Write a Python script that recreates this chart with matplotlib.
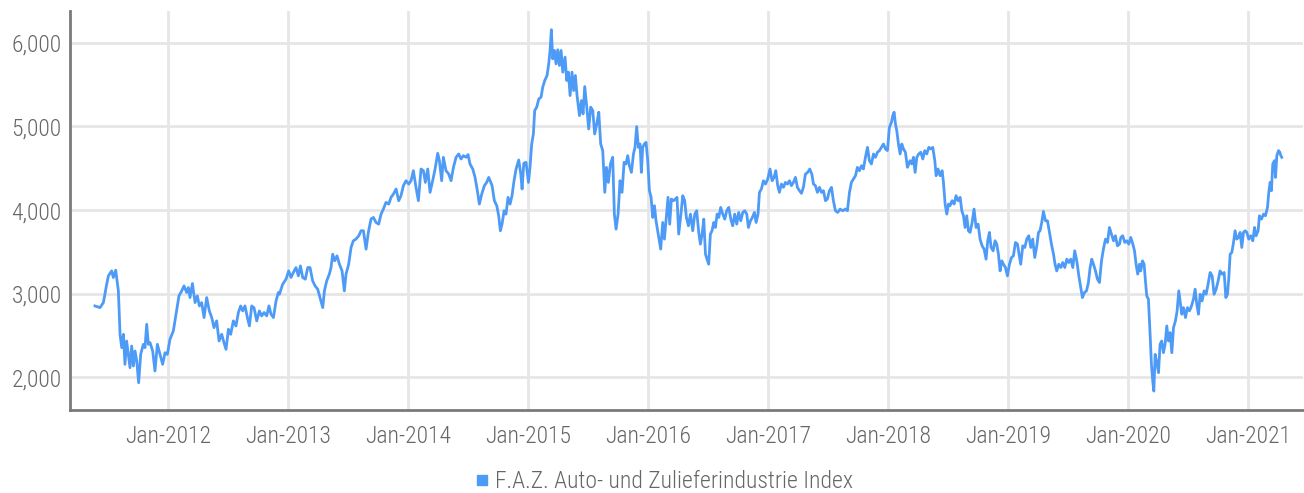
import matplotlib
matplotlib.use("Agg")
import matplotlib.pyplot as plt
from matplotlib.lines import Line2D
import matplotlib.font_manager as fm

# ---------------- data (decimal years, index level) ----------------
years = [
 2011.394, 2011.436, 2011.464, 2011.492, 2011.506, 2011.533, 2011.547, 2011.567, 2011.589, 2011.603,
 2011.617, 2011.631, 2011.644, 2011.658, 2011.672, 2011.686, 2011.700, 2011.714, 2011.728, 2011.742,
 2011.758, 2011.775, 2011.797, 2011.811, 2011.825, 2011.839, 2011.853, 2011.875, 2011.894, 2011.914,
 2011.936, 2011.958, 2011.978, 2011.997, 2012.019, 2012.047, 2012.069, 2012.094, 2012.117, 2012.136,
 2012.158, 2012.172, 2012.186, 2012.206, 2012.228, 2012.247, 2012.264, 2012.283, 2012.303, 2012.325,
 2012.347, 2012.367, 2012.386, 2012.408, 2012.428, 2012.450, 2012.469, 2012.486, 2012.506, 2012.525,
 2012.547, 2012.569, 2012.589, 2012.608, 2012.625, 2012.644, 2012.664, 2012.681, 2012.700, 2012.719,
 2012.742, 2012.764, 2012.783, 2012.803, 2012.825, 2012.844, 2012.861, 2012.881, 2012.903, 2012.922,
 2012.931, 2012.958, 2012.986, 2013.008, 2013.028, 2013.047, 2013.069, 2013.089, 2013.106, 2013.125,
 2013.147, 2013.167, 2013.186, 2013.208, 2013.228, 2013.250, 2013.269, 2013.292, 2013.306, 2013.325,
 2013.347, 2013.361, 2013.375, 2013.392, 2013.411, 2013.431, 2013.453, 2013.472, 2013.486, 2013.508,
 2013.528, 2013.547, 2013.569, 2013.592, 2013.611, 2013.631, 2013.653, 2013.672, 2013.694, 2013.714,
 2013.736, 2013.758, 2013.778, 2013.797, 2013.819, 2013.842, 2013.861, 2013.881, 2013.903, 2013.925,
 2013.944, 2013.964, 2013.986, 2014.008, 2014.028, 2014.047, 2014.069, 2014.089, 2014.111, 2014.131,
 2014.147, 2014.167, 2014.186, 2014.208, 2014.228, 2014.250, 2014.264, 2014.283, 2014.297, 2014.319,
 2014.342, 2014.361, 2014.381, 2014.403, 2014.425, 2014.444, 2014.464, 2014.486, 2014.503, 2014.519,
 2014.542, 2014.561, 2014.578, 2014.597, 2014.617, 2014.639, 2014.658, 2014.675,
 2014.681, 2014.703, 2014.722, 2014.742, 2014.758, 2014.772, 2014.786, 2014.803, 2014.819, 2014.836,
 2014.853, 2014.869, 2014.886, 2014.903, 2014.925, 2014.942, 2014.953, 2014.967, 2014.986, 2015.006,
 2015.019, 2015.033, 2015.047, 2015.058, 2015.075, 2015.092, 2015.111, 2015.125, 2015.142, 2015.161,
 2015.175, 2015.186, 2015.197, 2015.208, 2015.222, 2015.236, 2015.250, 2015.264, 2015.278, 2015.292,
 2015.311, 2015.325, 2015.339, 2015.353, 2015.369, 2015.383, 2015.397, 2015.411, 2015.431, 2015.447,
 2015.461, 2015.475, 2015.492, 2015.508, 2015.525, 2015.542, 2015.558, 2015.575, 2015.592, 2015.608,
 2015.625, 2015.642, 2015.656, 2015.672, 2015.689, 2015.708, 2015.722, 2015.736, 2015.753, 2015.769,
 2015.786, 2015.803, 2015.819, 2015.833, 2015.847, 2015.864, 2015.881, 2015.894, 2015.908, 2015.922,
 2015.936, 2015.947, 2015.958, 2015.972, 2015.986, 2016.000, 2016.014, 2016.028, 2016.042, 2016.056,
 2016.069, 2016.083, 2016.097, 2016.108, 2016.125, 2016.139, 2016.153, 2016.169, 2016.183, 2016.197,
 2016.214, 2016.231, 2016.244, 2016.258, 2016.275, 2016.292, 2016.308, 2016.322, 2016.339, 2016.356,
 2016.375, 2016.392, 2016.408, 2016.425,
 2016.439, 2016.453, 2016.467, 2016.481, 2016.494, 2016.508, 2016.522, 2016.536, 2016.550, 2016.564,
 2016.578, 2016.592, 2016.608, 2016.625, 2016.642, 2016.658, 2016.675, 2016.692, 2016.708, 2016.725,
 2016.742, 2016.758, 2016.775, 2016.792, 2016.808, 2016.825, 2016.839, 2016.856, 2016.872, 2016.889,
 2016.903, 2016.919, 2016.931, 2016.947, 2016.964, 2016.981, 2017.000, 2017.019, 2017.036, 2017.053,
 2017.067, 2017.083, 2017.097, 2017.114, 2017.131, 2017.147, 2017.164, 2017.181, 2017.197, 2017.214,
 2017.231, 2017.247, 2017.264, 2017.281, 2017.297, 2017.314, 2017.333, 2017.350, 2017.367, 2017.381,
 2017.397, 2017.414, 2017.431, 2017.447, 2017.464, 2017.481, 2017.497, 2017.514, 2017.531, 2017.547,
 2017.564, 2017.583, 2017.603, 2017.625, 2017.647, 2017.664, 2017.681, 2017.697, 2017.714, 2017.731,
 2017.747, 2017.764, 2017.781, 2017.797, 2017.814, 2017.831, 2017.847, 2017.864, 2017.881, 2017.897,
 2017.914, 2017.931, 2017.947, 2017.964, 2017.981, 2017.997, 2018.014, 2018.031, 2018.042, 2018.053,
 2018.064, 2018.075, 2018.089, 2018.103, 2018.117, 2018.131, 2018.147, 2018.164,
 2018.186, 2018.200, 2018.214, 2018.228, 2018.242, 2018.258, 2018.275, 2018.292, 2018.308, 2018.325,
 2018.342, 2018.358, 2018.375, 2018.392, 2018.403, 2018.419, 2018.436, 2018.453, 2018.464, 2018.478,
 2018.492, 2018.506, 2018.519, 2018.536, 2018.553, 2018.569, 2018.586, 2018.603, 2018.617, 2018.631,
 2018.644, 2018.658, 2018.672, 2018.686, 2018.703, 2018.719, 2018.736, 2018.753, 2018.769, 2018.786,
 2018.803, 2018.819, 2018.833, 2018.847, 2018.861, 2018.878, 2018.894, 2018.908, 2018.922, 2018.936,
 2018.950, 2018.964, 2018.981, 2018.997, 2019.014, 2019.031, 2019.047, 2019.064, 2019.081, 2019.094,
 2019.108, 2019.125, 2019.142, 2019.158, 2019.175, 2019.192, 2019.208, 2019.225, 2019.242, 2019.256,
 2019.269, 2019.283, 2019.297, 2019.314, 2019.331, 2019.347, 2019.364, 2019.381, 2019.394, 2019.408,
 2019.425, 2019.442, 2019.458, 2019.475, 2019.492, 2019.508, 2019.525, 2019.542, 2019.558, 2019.575,
 2019.592, 2019.608, 2019.622, 2019.639, 2019.656, 2019.672, 2019.686, 2019.700, 2019.714, 2019.731,
 2019.747, 2019.764, 2019.781, 2019.797, 2019.814, 2019.831, 2019.847, 2019.864, 2019.881, 2019.897,
 2019.914, 2019.931,
 2019.942, 2019.958, 2019.975, 2019.992, 2020.008, 2020.025, 2020.042, 2020.056, 2020.069, 2020.083,
 2020.097, 2020.108, 2020.122, 2020.136, 2020.147, 2020.158, 2020.172, 2020.186, 2020.197, 2020.208,
 2020.217, 2020.228, 2020.242, 2020.256, 2020.269, 2020.283, 2020.297, 2020.311, 2020.325, 2020.339,
 2020.353, 2020.367, 2020.381, 2020.397, 2020.411, 2020.425, 2020.436, 2020.450, 2020.464, 2020.481,
 2020.497, 2020.514, 2020.531, 2020.547, 2020.561, 2020.575, 2020.589, 2020.603, 2020.619, 2020.636,
 2020.653, 2020.669, 2020.686, 2020.703, 2020.719, 2020.736, 2020.753, 2020.769, 2020.786, 2020.803,
 2020.817, 2020.831, 2020.842, 2020.853, 2020.867, 2020.881, 2020.894, 2020.908, 2020.922, 2020.936,
 2020.950, 2020.964, 2020.978, 2020.992, 2021.008, 2021.025, 2021.042, 2021.056, 2021.069, 2021.086,
 2021.097, 2021.114, 2021.131, 2021.147, 2021.164, 2021.175, 2021.186, 2021.197, 2021.208, 2021.222,
 2021.231, 2021.242, 2021.256, 2021.267, 2021.275, 2021.283,
]

index_values = [
 2854, 2834, 2894, 3114, 3214, 3273, 3194, 3281, 3034, 2515,
 2355, 2515, 2156, 2435, 2275, 2116, 2375, 2136, 2315, 2196,
 1936, 2275, 2395, 2355, 2635, 2395, 2415, 2315, 2076, 2395,
 2275, 2156, 2295, 2275, 2455, 2555, 2755, 2974, 3034, 3094,
 3014, 3074, 2954, 3122, 2894, 2974, 2854, 2894, 2715, 2954,
 2795, 2715, 2595, 2675, 2435, 2515, 2415, 2335, 2575, 2515,
 2675, 2615, 2775, 2854, 2795, 2854, 2715, 2615, 2854, 2834,
 2675, 2795, 2735, 2775, 2735, 2854, 2755, 2715, 2914, 3014,
 2994, 3114, 3174, 3273, 3194, 3254, 3313, 3214, 3333, 3194,
 3174, 3313, 3313, 3154, 3094, 3054, 2954, 2834, 3034, 3154,
 3234, 3313, 3473, 3393, 3453, 3353, 3273, 3034, 3234, 3353,
 3553, 3633, 3653, 3693, 3753, 3753, 3533, 3733, 3892, 3912,
 3852, 3832, 3952, 4012, 4092, 4072, 4152, 4192, 4252, 4112,
 4172, 4292, 4351, 4311, 4351, 4471, 4271, 4112, 4491, 4471,
 4331, 4491, 4212, 4351, 4491, 4679, 4591, 4351, 4631, 4471,
 4431, 4351, 4511, 4631, 4671, 4611, 4651, 4631, 4663, 4551,
 4491, 4391, 4252, 4072, 4192, 4292, 4331, 4391,
 4371, 4292, 4112, 4052, 3932, 3753, 3832, 3992, 3952, 4152,
 4072, 4172, 4351, 4491, 4599, 4431, 4252, 4559, 4571, 4331,
 4511, 4790, 4910, 5190, 5230, 5329, 5349, 5469, 5549, 5609,
 5748, 5908, 6156, 5808, 5908, 5748, 5916, 5729, 5908, 5649,
 5828, 5549, 5649, 5369, 5649, 5429, 5609, 5369, 5130, 5309,
 5150, 5477, 5230, 4970, 5230, 5190, 4910, 5030, 5170, 4790,
 4711, 4212, 4511, 4331, 4551, 4631, 3952, 3772, 3952, 4351,
 4212, 4571, 4551, 4651, 4531, 4451, 4671, 4750, 4998, 4750,
 4790, 4451, 4750, 4790, 4810, 4591, 4232, 4152, 3912, 4052,
 3872, 3753, 3633, 3533, 3852, 3653, 3892, 4152, 3832, 4132,
 4112, 4132, 4152, 3713, 3932, 4172, 4112, 3912, 3812, 3952,
 3753, 3952, 3992, 3733,
 3593, 3713, 3892, 3473, 3413, 3353, 3713, 3753, 3852, 3792,
 3952, 3912, 4032, 3952, 3892, 3992, 4032, 3892, 3812, 3952,
 3832, 3972, 3872, 3972, 3992, 3952, 3792, 3872, 3912, 3972,
 3852, 3952, 4212, 4252, 4351, 4311, 4371, 4491, 4351, 4391,
 4471, 4292, 4212, 4311, 4272, 4331, 4311, 4351, 4292, 4331,
 4391, 4272, 4232, 4200, 4272, 4431, 4451, 4491, 4431, 4311,
 4292, 4212, 4272, 4212, 4232, 4112, 4132, 4232, 4272, 4112,
 3992, 3972, 4012, 3992, 4012, 3992, 4212, 4331, 4371, 4411,
 4511, 4471, 4531, 4491, 4631, 4750, 4591, 4551, 4671, 4631,
 4691, 4711, 4750, 4790, 4731, 4711, 4990, 5050, 5130, 5170,
 5030, 4950, 4790, 4671, 4790, 4731, 4691, 4511,
 4591, 4551, 4631, 4451, 4631, 4671, 4691, 4611, 4711, 4671,
 4750, 4731, 4750, 4591, 4411, 4491, 4411, 4471, 4331, 4072,
 3952, 4072, 4052, 4112, 4072, 4172, 4112, 4152, 3992, 3932,
 3792, 3932, 3753, 3733, 3852, 4012, 3792, 3832, 3653, 3573,
 3533, 3413, 3633, 3733, 3553, 3513, 3633, 3593, 3473, 3273,
 3393, 3353, 3313, 3214, 3353, 3433, 3453, 3613, 3593, 3473,
 3353, 3573, 3553, 3653, 3693, 3553, 3653, 3433, 3573, 3733,
 3753, 3852, 3984, 3872, 3872, 3733, 3593, 3473, 3353, 3273,
 3353, 3313, 3373, 3313, 3413, 3373, 3413, 3313, 3513, 3393,
 3214, 3074, 2954, 3014, 3034, 3134, 3313, 3413, 3353, 3273,
 3174, 3134, 3393, 3533, 3653, 3613, 3792, 3713, 3633, 3693,
 3573, 3593,
 3673, 3693, 3613, 3633, 3593, 3673, 3593, 3513, 3353, 3234,
 3353, 3273, 3393, 3353, 3154, 2974, 2934, 2515, 2156, 1956,
 1836, 2275, 2176, 2056, 2395, 2435, 2295, 2395, 2615, 2435,
 2535, 2295, 2595, 2675, 2795, 3034, 2914, 2755, 2834, 2715,
 2834, 2795, 2854, 2934, 3054, 2874, 2755, 2994, 2914, 3034,
 2994, 3114, 3254, 3214, 2994, 3054, 3154, 3273, 3234, 3254,
 2954, 2994, 3194, 3473, 3493, 3613, 3753, 3653, 3673, 3733,
 3553, 3733, 3753, 3733, 3653, 3693, 3633, 3792, 3693, 3753,
 3932, 3892, 3952, 3932, 4032, 4212, 4331, 4232, 4551, 4591,
 4391, 4651, 4711, 4691, 4651, 4631,
]

tick_years = [2012, 2013, 2014, 2015, 2016, 2017, 2018, 2019, 2020, 2021]
tick_labels = ["Jan-2012", "Jan-2013", "Jan-2014", "Jan-2015", "Jan-2016",
               "Jan-2017", "Jan-2018", "Jan-2019", "Jan-2020", "Jan-2021"]
y_ticks = [2000, 3000, 4000, 5000, 6000]
series_name = "F.A.Z. Auto- und Zulieferindustrie Index"

# ---------------- style ----------------
names = {f.name for f in fm.fontManager.ttflist}
preferred = ["Roboto Condensed", "Barlow Semi Condensed", "Fira Sans Condensed",
             "Sofia Sans Semi Condensed", "Saira SemiCondensed", "Liberation Sans Narrow", "Roboto"]
fam = [n for n in preferred if n in names][:1] + ["DejaVu Sans"]
plt.rcParams["font.family"] = fam
plt.rcParams["font.weight"] = 300

LINE = "#4d9bf7"
GRID = "#e6e6e6"
TEXT = "#666666"
SPINE = "#7a7a7a"

fig = plt.figure(figsize=(13.04, 4.93), dpi=100)
ax = fig.add_axes([70 / 1304, 1 - 410 / 493, 1233 / 1304, 399 / 493])

ax.plot(years, index_values, color=LINE, lw=2.0, solid_joinstyle="round", zorder=3)

ax.set_xlim(2011.186, 2021.46)
ax.set_ylim(1610, 6380)
ax.set_xticks(tick_years)
ax.set_xticklabels(tick_labels)
ax.set_yticks(y_ticks)
ax.set_yticklabels([f"{v:,}" for v in y_ticks])

ax.grid(True, color=GRID, lw=2.0, zorder=0)
ax.set_axisbelow(True)
for s in ["top", "right"]:
    ax.spines[s].set_visible(False)
for s in ["left", "bottom"]:
    ax.spines[s].set_color(SPINE)
    ax.spines[s].set_linewidth(2.0)

ax.tick_params(axis="both", length=0, labelsize=17, labelcolor=TEXT)
ax.tick_params(axis="x", pad=11)
ax.tick_params(axis="y", pad=6)

handle = Line2D([], [], marker="s", color="none", markerfacecolor=LINE,
                markeredgecolor=LINE, markersize=7)
fig.legend([handle], [series_name], loc="center", bbox_to_anchor=(664 / 1304, 1 - 482 / 493),
           frameon=False, fontsize=17, labelcolor=TEXT, handlelength=0.6,
           handletextpad=0.25, borderaxespad=0)

fig.savefig("out.png", dpi=100)
